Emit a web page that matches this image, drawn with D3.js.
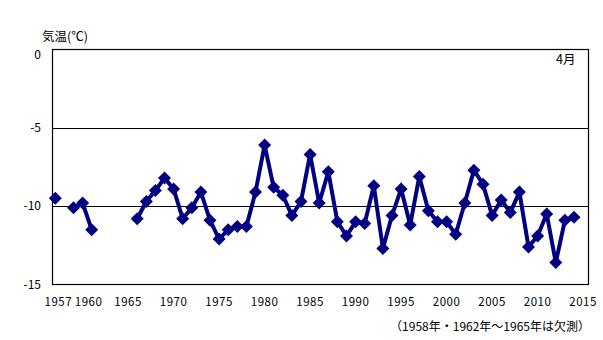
<!DOCTYPE html>
<html><head><meta charset="utf-8">
<script src="https://cdn.jsdelivr.net/npm/d3@7/dist/d3.min.js"></script>
<style>
body{margin:0;background:#fff;}
text{font-family:"Noto Sans CJK JP","DejaVu Sans",sans-serif;fill:#000;}
</style></head><body>
<svg id="c" width="603" height="340"></svg>
<script>
const years = d3.range(1957, 2015);
const temps = [
 -9.5, null, -10.1, -9.8, -11.5, null, null, null, null,
 -10.8, -9.7, -9.0, -8.2, -8.9, -10.8, -10.1, -9.1, -10.9, -12.1,
 -11.5, -11.3, -11.3, -9.1, -6.1, -8.8, -9.3, -10.6, -9.7, -6.7,
 -9.8, -7.8, -11.0, -11.9, -11.0, -11.1, -8.7, -12.7, -10.6, -8.9,
 -11.2, -8.1, -10.3, -11.0, -11.0, -11.8, -9.8, -7.7, -8.6, -10.6,
 -9.6, -10.4, -9.1, -12.6, -11.9, -10.5, -13.6, -10.9, -10.7
];
const xTicks = [1957, 1960, 1965, 1970, 1975, 1980, 1985, 1990, 1995, 2000, 2005, 2010, 2015];
const yTicks = [0, -5, -10, -15];
const gridVals = [-5, -10];
const yTitle = "気温(℃)";
const monthLabel = "4月";
const note = "（1958年・1962年～1965年は欠測）";

const data = years.map((y, i) => ({year: y, v: temps[i]}));
const svg = d3.select("#c");
const L = 52, R = 588, T = 49.5, B = 284.5;
const x = d3.scaleLinear().domain([1957, 2015]).range([55.3, 583.1]);
const y = d3.scaleLinear().domain([-15, 0]).range([B, T]);

// grid
svg.append("g").selectAll("line").data(gridVals).join("line")
  .attr("x1", L).attr("x2", R)
  .attr("y1", d => Math.round(y(d)) + 0.5).attr("y2", d => Math.round(y(d)) + 0.5)
  .attr("stroke", "#000").attr("stroke-width", 1);

// frame
svg.append("rect").attr("x", L + 0.5).attr("y", T).attr("width", R - L).attr("height", B - T)
  .attr("fill", "none").attr("stroke", "#000").attr("stroke-width", 1.2);

// y labels
svg.append("g").selectAll("text").data(yTicks).join("text")
  .attr("x", 41).attr("y", d => y(d) + (d === 0 ? 5 : 0)).attr("dy", "0.35em")
  .attr("text-anchor", "end").attr("font-size", 12).text(d => d);

// x labels
svg.append("g").selectAll("text").data(xTicks).join("text")
  .attr("x", d => x(d) + (d === 1957 ? 3 : d === 1960 ? 6 : 0)).attr("y", 306)
  .attr("text-anchor", "middle").attr("font-size", 11.5).attr("letter-spacing", 0.5).text(d => d);

// line
const line = d3.line().defined(d => d.v !== null).x(d => x(d.year)).y(d => y(d.v));
svg.append("path").datum(data).attr("d", line)
  .attr("fill", "none").attr("stroke", "#000080").attr("stroke-width", 4)
  .attr("stroke-linejoin", "miter");

// markers
const s = 6.5;
svg.append("g").selectAll("path").data(data.filter(d => d.v !== null)).join("path")
  .attr("transform", d => `translate(${x(d.year)},${y(d.v)})`)
  .attr("d", `M0,${-s}L${s},0L0,${s}L${-s},0Z`)
  .attr("fill", "#000080");

// texts
svg.append("text").attr("x", 42).attr("y", 41).attr("font-size", 12.5).text(yTitle);
svg.append("text").attr("x", 556).attr("y", 64).attr("font-size", 12.5).text(monthLabel);
svg.append("text").attr("x", 590).attr("y", 331).attr("text-anchor", "end").attr("font-size", 12).text(note);
</script>
</body></html>
